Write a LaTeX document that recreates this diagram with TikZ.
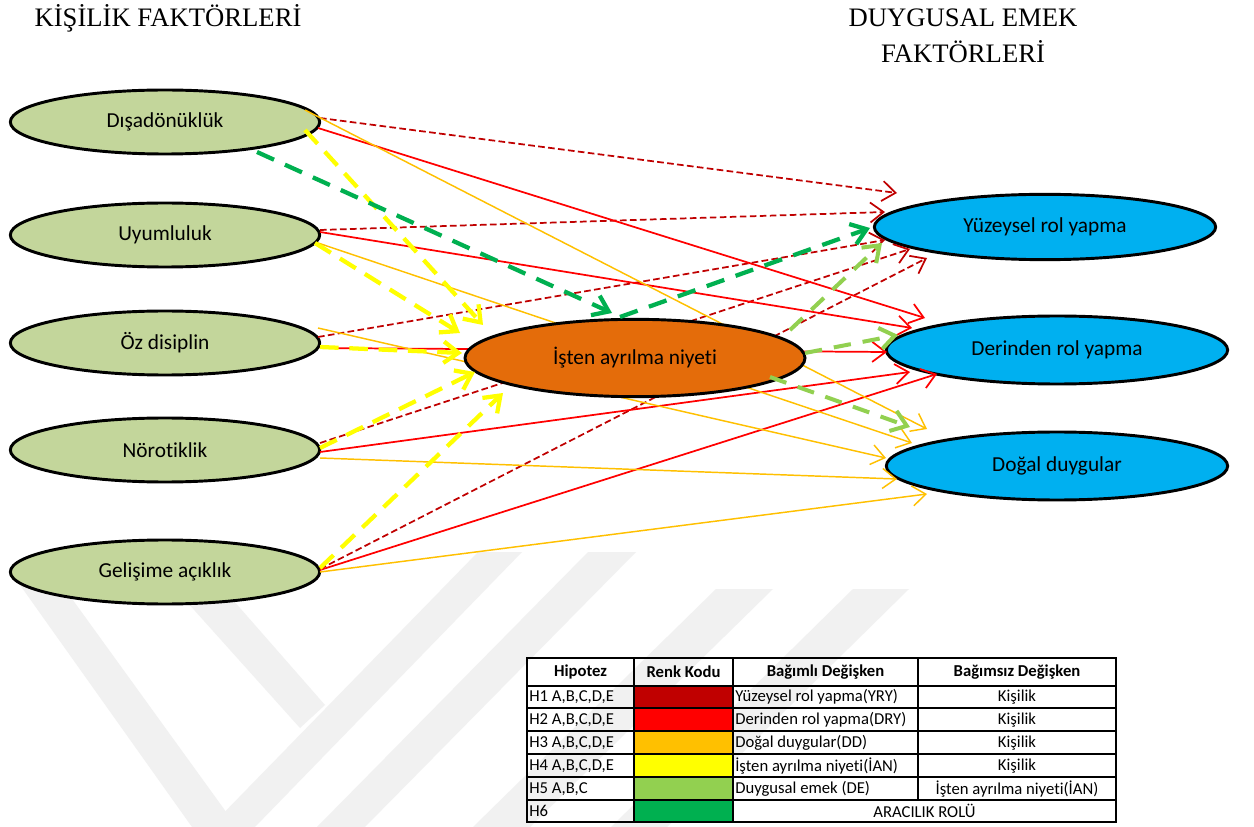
\documentclass[tikz,border=0pt]{standalone}
\usepackage{fontspec}
\setmainfont{Carlito}[Ligatures=NoCommon]
\newfontfamily\titlefont{Liberation Serif}
\usetikzlibrary{arrows.meta,calc,shapes.geometric}
\definecolor{hdred}{HTML}{C00000}
\definecolor{hred}{HTML}{FF0000}
\definecolor{horange}{HTML}{FFC000}
\definecolor{hyellow}{HTML}{FFFF00}
\definecolor{hlgreen}{HTML}{92D050}
\definecolor{hgreen}{HTML}{00B050}
\definecolor{leftfill}{HTML}{C3D69B}
\definecolor{midfill}{HTML}{E46C0A}
\definecolor{rightfill}{HTML}{00B0F0}
\definecolor{wmark}{HTML}{F1F1F1}
\begin{document}
\begin{tikzpicture}[x=0.75pt,y=-0.75pt,
  font=\fontsize{16}{19}\selectfont,
  lefte/.style={ellipse,draw,line width=2.2pt,fill=leftfill,minimum width=232pt,minimum height=48pt,inner sep=0pt},
  mide/.style={ellipse,draw,line width=2.2pt,fill=midfill,minimum width=255pt,minimum height=58pt,inner sep=0pt},
  righte/.style={ellipse,draw,line width=2.2pt,fill=rightfill,minimum width=256pt,minimum height=49pt,inner sep=0pt},
  thinarrow/.style={-{Straight Barb[length=10pt,width=15pt]}},
  thickarrow/.style={-{Straight Barb[length=11pt,width=16pt]}},
  hone/.style={thinarrow,draw=hdred,line width=1.3pt,dash pattern=on 5pt off 2.5pt},
  htwo/.style={thinarrow,draw=hred,line width=1.3pt},
  hthree/.style={thinarrow,draw=horange,line width=1.1pt},
  hfour/.style={thickarrow,draw=hyellow,line width=3.2pt,dash pattern=on 14pt off 8pt},
  hfive/.style={thickarrow,draw=hlgreen,line width=3pt,dash pattern=on 13pt off 9pt},
  hsix/.style={thickarrow,draw=hgreen,line width=3.2pt,dash pattern=on 14pt off 9pt},
  tabtext/.style={font=\fontsize{12.5}{14}\selectfont,inner sep=0pt},
  tabhead/.style={font=\fontsize{12.5}{14}\selectfont\bfseries,inner sep=0pt},
  ttl/.style={font=\titlefont\fontsize{20}{24}\selectfont,inner sep=0pt}
]
\useasboundingbox (0,0) rectangle (1254,827);
\fill[white] (0,0) rectangle (1254,827);
% watermark
\begin{scope}[wmark]
\fill (20,585) -- (62,585) -- (237,827) -- (192,827) -- cycle;
\fill (178,592) -- (226,592) -- (325,705) -- (300,728) -- cycle;
\fill (478,552) -- (522,552) -- (255,827) -- (210,827) -- cycle;
\fill (588,552) -- (636,552) -- (365,827) -- (317,827) -- cycle;
\fill (716,589) -- (773,589) -- (530,827) -- (473,827) -- cycle;
\fill (853,589) -- (909,589) -- (667,827) -- (611,827) -- cycle;
\end{scope}
% titles
\node[ttl] (t1) at (168,18) {KİŞİLİK FAKTÖRLERİ};
\node[ttl] (t2) at (963,18) {DUYGUSAL EMEK};
\node[ttl] (t3) at (963,52) {FAKTÖRLERİ};
% left ellipses
\node[lefte] (dis) at (165,122) {Dışadönüklük};
\node[lefte] (uyu) at (165,235) {Uyumluluk};
\node[lefte] (oz) at (165,343) {Öz disiplin};
\node[lefte] (nor) at (165,450) {Nörotiklik};
\node[lefte] (gel) at (165,572) {Gelişime açıklık};
% right ellipses
\node[righte] (yuz) at (1045,227) {Yüzeysel rol yapma};
\node[righte,minimum height=51pt] (der) at (1057,350) {Derinden rol yapma};
\node[righte,minimum height=51pt] (dog) at (1057,466) {Doğal duygular};
% free arrow ends
\coordinate (e1a) at (897,193);
\coordinate (e1b) at (885,212);
\coordinate (e1c) at (885,240);
\coordinate (e1d) at (910,249);
\coordinate (e1e) at (927,258);
\coordinate (e2a) at (925,318);
\coordinate (e2b) at (912,328);
\coordinate (e2c) at (887,352);
\coordinate (e2d) at (910,372);
\coordinate (e2e) at (937,374);
\coordinate (e3a) at (927,429);
\coordinate (e3b) at (912,443);
\coordinate (e3c) at (886,458);
\coordinate (e3d) at (897,479);
\coordinate (e3e) at (927,494);
\coordinate (e4a) at (483,325);
\coordinate (e4b) at (460,333);
\coordinate (e4c) at (462,353);
\coordinate (e4d) at (475,372);
\coordinate (e4e) at (503,393);
\coordinate (e5a) at (882,243);
\coordinate (e5b) at (898,335);
\coordinate (e5c) at (910,427);
\coordinate (e6a) at (612,313);
\coordinate (e6b) at (870,228);
% H1
\draw[hone] ($(dis.center)+(155,-4)$) -- (e1a);
\draw[hone] ($(uyu.center)+(155,-5)$) -- (e1b);
\draw[hone] ($(oz.center)+(153,-6)$) -- (e1c);
\draw[hone] ($(nor.center)+(155,-7)$) -- (e1d);
\draw[hone] ($(gel.center)+(155,-3)$) -- (e1e);
% H2
\draw[htwo] ($(dis.center)+(153,6)$) -- (e2a);
\draw[htwo] ($(uyu.center)+(155,-3)$) -- (e2b);
\draw[htwo] ($(oz.center)+(155,5)$) -- (e2c);
\draw[htwo] ($(nor.center)+(155,2)$) -- (e2d);
\draw[htwo] ($(gel.center)+(155,-2)$) -- (e2e);
% H3
\draw[hthree] ($(dis.center)+(140,-12)$) -- (e3a);
\draw[hthree] ($(uyu.center)+(153,8)$) -- (e3b);
\draw[hthree] ($(oz.center)+(153,-15)$) -- (e3c);
\draw[hthree] ($(nor.center)+(155,8)$) -- (e3d);
\draw[hthree] ($(gel.center)+(155,0)$) -- (e3e);
% center ellipse
\node[mide] (isten) at (635,358) {İşten ayrılma niyeti};
% H4
\draw[hfour] ($(dis.center)+(140,8)$) -- (e4a);
\draw[hfour] ($(uyu.center)+(150,8)$) -- (e4b);
\draw[hfour] ($(oz.center)+(155,4)$) -- (e4c);
\draw[hfour] ($(nor.center)+(155,-2)$) -- (e4d);
\draw[hfour] ($(gel.center)+(155,-4)$) -- (e4e);
% H5
\draw[hfive] ($(isten.center)+(155,-28)$) -- (e5a);
\draw[hfive] ($(isten.center)+(170,-5)$) -- (e5b);
\draw[hfive] ($(isten.center)+(135,19)$) -- (e5c);
% H6
\draw[hsix] ($(dis.center)+(92,30)$) -- (e6a);
\draw[hsix] ($(isten.center)+(-15,-41)$) -- (e6b);
% table
\fill[hdred] (634,686) rectangle (733,708);
\fill[hred] (634,708) rectangle (733,731);
\fill[horange] (634,731) rectangle (733,754);
\fill[hyellow] (634,754) rectangle (733,777);
\fill[hlgreen] (634,777) rectangle (733,800);
\fill[hgreen] (634,800) rectangle (733,822);
\begin{scope}[line width=1.5pt]
\draw (527,658) rectangle (1116,822);
\foreach \yy in {686,708,731,754,777,800} \draw (527,\yy) -- (1116,\yy);
\draw (634,658) -- (634,822);
\draw (733,658) -- (733,822);
\draw (918,658) -- (918,800);
\end{scope}
\node[tabhead] (h1) at (580.5,672) {Hipotez};
\node[tabhead] (h2) at (683.5,672) {Renk Kodu};
\node[tabhead] (h3) at (825.5,672) {Bağımlı Değişken};
\node[tabhead] (h4) at (1017,672) {Bağımsız Değişken};
\node[tabtext,anchor=west] (r1a) at (529,697) {H1 A,B,C,D,E};
\node[tabtext,anchor=west] (r2a) at (529,720) {H2 A,B,C,D,E};
\node[tabtext,anchor=west] (r3a) at (529,743) {H3 A,B,C,D,E};
\node[tabtext,anchor=west] (r4a) at (529,766) {H4 A,B,C,D,E};
\node[tabtext,anchor=west] (r5a) at (529,789) {H5 A,B,C};
\node[tabtext,anchor=west] (r6a) at (529,811) {H6};
\node[tabtext,anchor=west] (r1c) at (735,697) {Yüzeysel rol yapma(YRY)};
\node[tabtext,anchor=west] (r2c) at (735,720) {Derinden rol yapma(DRY)};
\node[tabtext,anchor=west] (r3c) at (735,743) {Doğal duygular(DD)};
\node[tabtext,anchor=west] (r4c) at (735,766) {İşten ayrılma niyeti(İAN)};
\node[tabtext,anchor=west] (r5c) at (735,789) {Duygusal emek (DE)};
\node[tabtext] (r1d) at (1017,697) {Kişilik};
\node[tabtext] (r2d) at (1017,720) {Kişilik};
\node[tabtext] (r3d) at (1017,743) {Kişilik};
\node[tabtext] (r4d) at (1017,766) {Kişilik};
\node[tabtext] (r5d) at (1017,789) {İşten ayrılma niyeti(İAN)};
\node[tabtext] (r6c) at (924.5,811) {ARACILIK ROLÜ};
\end{tikzpicture}
\end{document}
